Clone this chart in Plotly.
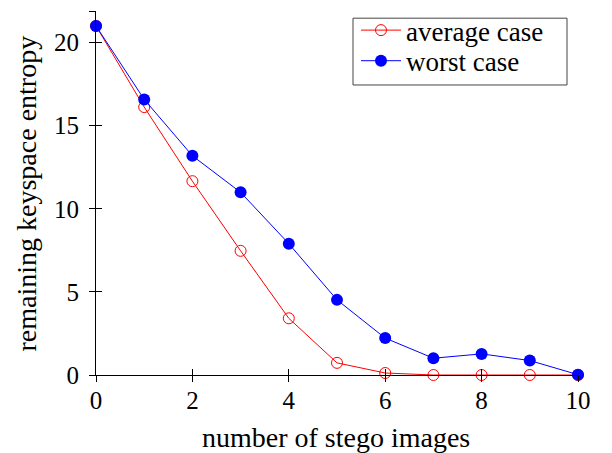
import plotly.graph_objects as go

x_vals = [0, 1, 2, 3, 4, 5, 6, 7, 8, 9, 10]
average_case = [21.0, 16.12, 11.66, 7.47, 3.41, 0.73, 0.12, 0.0, 0.0, 0.0, 0.0]
worst_case = [21.0, 16.58, 13.19, 10.99, 7.90, 4.52, 2.22, 1.01, 1.27, 0.87, 0.02]
x_ticks = [0, 2, 4, 6, 8, 10]
y_ticks = [0, 5, 10, 15, 20]
x_title = "number of stego images"
y_title = "remaining keyspace entropy"

FONT = "'Liberation Serif', 'DejaVu Serif', serif"
Y_MAX = 21.9
TICK_SIZE = 25
TITLE_SIZE = 28
LEGEND_SIZE = 27

ML, MR, MT, MB = 96, 34, 6, 78
W, H = 612, 453
PW, PH = W - ML - MR, H - MT - MB


def px_x(p):
    return (p - ML) / PW


def px_y(p):
    return 1 - (p - MT) / PH


fig = go.Figure()
fig.add_trace(go.Scatter(
    x=x_vals, y=average_case, name="average case", mode="lines+markers",
    line=dict(color="#ff0000", width=1),
    marker=dict(symbol="circle-open", size=11, color="#ff0000", line=dict(width=1)),
    cliponaxis=False, legend="legend",
))
fig.add_trace(go.Scatter(
    x=x_vals, y=worst_case, name="worst case", mode="lines+markers",
    line=dict(color="#0000ff", width=1),
    marker=dict(symbol="circle", size=12, color="#0000ff"),
    cliponaxis=False, legend="legend2",
))
# invisible trace for overlay axes (inner tick halves)
fig.add_trace(go.Scatter(x=[0], y=[0], xaxis="x2", yaxis="y2", mode="markers",
                         marker=dict(opacity=0), showlegend=False, hoverinfo="skip"))

ytv = y_ticks + [Y_MAX]
ytt = [str(v) for v in y_ticks] + [""]

legend_common = dict(
    xanchor="left", yanchor="top", borderwidth=0, bgcolor="rgba(0,0,0,0)",
    font=dict(family=FONT, size=LEGEND_SIZE), itemwidth=40,
)

fig.update_layout(
    width=W, height=H,
    margin=dict(l=ML, r=MR, t=MT, b=MB),
    paper_bgcolor="white", plot_bgcolor="white",
    font=dict(family=FONT, size=TICK_SIZE, color="black"),
    showlegend=True,
    legend=dict(x=px_x(356), y=px_y(1), **legend_common),
    legend2=dict(x=px_x(356), y=px_y(32), **legend_common),
    shapes=[
        dict(type="rect", xref="paper", yref="paper",
             x0=px_x(353), x1=px_x(567), y0=px_y(81), y1=px_y(13.3),
             line=dict(color="#444444", width=1), fillcolor="white", layer="below"),
    ],
    xaxis=dict(
        range=[0, 10], tickvals=x_ticks, ticktext=[str(v) for v in x_ticks],
        showgrid=False, zeroline=False, showline=True, linecolor="black", linewidth=1,
        ticks="outside", ticklen=6, tickcolor="black", tickwidth=1,
        tickfont=dict(family=FONT, size=TICK_SIZE), automargin=False,
        ticklabelstandoff=-3,
    ),
    yaxis=dict(
        range=[0, Y_MAX], tickvals=ytv, ticktext=ytt,
        showgrid=False, zeroline=False, showline=True, linecolor="black", linewidth=1,
        ticks="outside", ticklen=6, tickcolor="black", tickwidth=1,
        tickfont=dict(family=FONT, size=TICK_SIZE), automargin=False,
        ticklabelstandoff=5,
    ),
    xaxis2=dict(
        range=[0, 10], tickvals=x_ticks, overlaying="x", showticklabels=False,
        showgrid=False, zeroline=False, showline=False,
        ticks="inside", ticklen=6, tickcolor="black", tickwidth=1, automargin=False,
    ),
    yaxis2=dict(
        range=[0, Y_MAX], tickvals=ytv, overlaying="y", showticklabels=False,
        showgrid=False, zeroline=False, showline=False,
        ticks="inside", ticklen=6, tickcolor="black", tickwidth=1, automargin=False,
    ),
    annotations=[
        dict(text=x_title, xref="paper", yref="paper", x=px_x(336), y=px_y(438),
             xanchor="center", yanchor="middle", showarrow=False,
             font=dict(family=FONT, size=TITLE_SIZE)),
        dict(text=y_title, xref="paper", yref="paper", x=px_x(26), y=px_y(191),
             xanchor="center", yanchor="middle", showarrow=False, textangle=-90,
             font=dict(family=FONT, size=TITLE_SIZE)),
    ],
)

fig.write_html(
    "out.html",
    config={"displayModeBar": False},
    post_script="document.body.style.margin='0';document.body.style.padding='0';",
)
